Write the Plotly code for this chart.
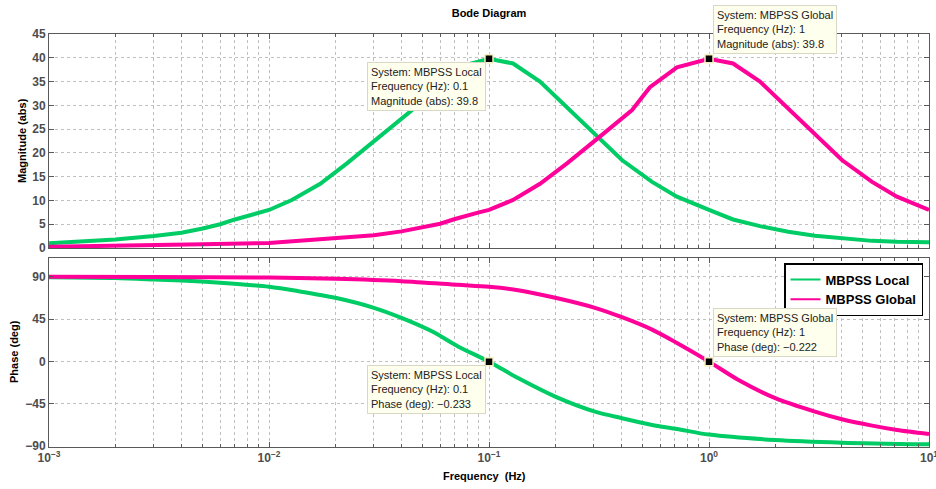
import numpy as np
import plotly.graph_objects as go
from plotly.subplots import make_subplots

# ---- Frequency response data (Hz, abs, deg) ----
freq_local_mag = [0.001, 0.002, 0.003, 0.004, 0.005, 0.006, 0.007, 0.008, 0.009, 0.01,
                  0.0127, 0.0171, 0.0226, 0.0313, 0.0447, 0.0539, 0.0715, 0.1,
                  0.1286, 0.1705, 0.303, 0.402, 0.551, 0.715, 1.0, 1.286, 1.705,
                  2.29, 3.03, 4.02, 5.51, 7.15, 10.0]
mag_local = [1.0, 1.8, 2.5, 3.2, 4.1, 5.0, 6.0, 6.8, 7.4, 8.0,
             10.1, 13.5, 17.8, 23.1, 29.0, 33.8, 38.0, 39.8,
             38.8, 35.0, 24.1, 18.5, 13.9, 10.8, 8.0, 6.0, 4.6,
             3.4, 2.6, 2.0, 1.5, 1.3, 1.2]

freq_global_mag = [0.001, 0.002, 0.003, 0.005, 0.01, 0.02, 0.03, 0.04, 0.05, 0.06,
                   0.07, 0.08, 0.09, 0.1, 0.1286, 0.1705, 0.2262, 0.313, 0.447,
                   0.539, 0.715, 1.0, 1.286, 1.705, 3.03, 4.02, 5.51, 7.15, 10.0]
mag_global = [0.25, 0.4, 0.55, 0.8, 1.05, 2.0, 2.7, 3.5, 4.3, 5.1,
              6.1, 6.9, 7.5, 8.0, 10.1, 13.5, 17.8, 23.1, 29.0,
              33.8, 38.0, 39.8, 38.8, 35.0, 24.1, 18.5, 13.9, 10.8, 8.0]

freq_local_ph = [0.001, 0.002, 0.003, 0.004, 0.006, 0.01, 0.0136, 0.02, 0.03, 0.04,
                 0.055, 0.0723, 0.1, 0.1355, 0.2, 0.303, 0.402, 0.551, 0.715,
                 1.0, 2.0, 4.02, 10.0]
phase_local = [89.4, 88.6, 87.2, 86.1, 83.7, 79.4, 74.7, 67.7, 57.0, 46.3,
               32.0, 16.0, -0.233, -17.7, -37.4, -53.4, -60.4, -67.6, -71.8,
               -77.8, -83.6, -86.4, -88.2]

freq_global_ph = [0.001, 0.003, 0.01, 0.02, 0.04, 0.0723, 0.1, 0.1355, 0.2, 0.303,
                  0.402, 0.551, 0.715, 1.0, 1.355, 2.0, 3.03, 4.02, 5.51, 7.15, 10.0]
phase_global = [90.0, 89.8, 89.2, 87.9, 85.4, 81.5, 79.4, 75.8, 67.7, 57.0,
                47.0, 33.8, 19.6, -0.222, -19.5, -39.1, -53.4, -61.5, -68.3, -72.9, -77.2]

# Data tips
tip_systems = ["MBPSS Local", "MBPSS Global"]
tip_freqs = [0.1, 1.0]
tip_mags = [39.8, 39.8]
tip_phases = [-0.233, -0.222]

x_ticks = [0.001, 0.01, 0.1, 1, 10]
mag_ticks = [0, 5, 10, 15, 20, 25, 30, 35, 40, 45]
phase_ticks = [-90, -45, 0, 45, 90]

GREEN = "#00CC66"
MAGENTA = "#FF0099"
FONT = "Liberation Sans, Arial, Helvetica, sans-serif"

W, H = 936, 489
ML, MR, MT, MB = 49, 7, 34, 42
plot_h = H - MT - MB
top_dom = [(H - MB - 248) / plot_h, 1.0]
bot_dom = [0.0, (H - MB - 258) / plot_h]

fig = make_subplots(rows=2, cols=1, shared_xaxes=True)

# magnitude
fig.add_trace(go.Scatter(x=freq_local_mag, y=mag_local, mode="lines",
                         line=dict(color=GREEN, width=4), showlegend=False,
                         name="MBPSS Local"), row=1, col=1)
fig.add_trace(go.Scatter(x=freq_global_mag, y=mag_global, mode="lines",
                         line=dict(color=MAGENTA, width=4), showlegend=False,
                         name="MBPSS Global"), row=1, col=1)
# phase
fig.add_trace(go.Scatter(x=freq_local_ph, y=phase_local, mode="lines",
                         line=dict(color=GREEN, width=4, shape="spline", smoothing=0.8),
                         showlegend=False, name="MBPSS Local"), row=2, col=1)
fig.add_trace(go.Scatter(x=freq_global_ph, y=phase_global, mode="lines",
                         line=dict(color=MAGENTA, width=4, shape="spline", smoothing=0.8),
                         showlegend=False, name="MBPSS Global"), row=2, col=1)

# legend entries (thin sample lines)
for name, col in zip(tip_systems, [GREEN, MAGENTA]):
    fig.add_trace(go.Scatter(x=[None], y=[None], mode="lines", name=name,
                             line=dict(color=col, width=2), showlegend=True),
                  row=2, col=1)

# data tip markers
marker_style = dict(symbol="square", size=8, color="black",
                    line=dict(color="#f5f0c0", width=1.5))
fig.add_trace(go.Scatter(x=tip_freqs, y=tip_mags, mode="markers", marker=marker_style,
                         showlegend=False, hoverinfo="skip"), row=1, col=1)
fig.add_trace(go.Scatter(x=tip_freqs, y=tip_phases, mode="markers", marker=marker_style,
                         showlegend=False, hoverinfo="skip"), row=2, col=1)


def fmt(v):
    s = f"{v:g}"
    return s.replace("-", "\u2212")


tip_box = dict(bgcolor="#ffffee", bordercolor="#d8d8c4", borderwidth=1, borderpad=3,
               align="left", showarrow=False,
               font=dict(family=FONT, size=11, color="#222222"))
for i, (sysname, f, m, p) in enumerate(zip(tip_systems, tip_freqs, tip_mags, tip_phases)):
    if i == 0:
        place = dict(xanchor="right", yanchor="top", xshift=-3, yshift=-3)
    else:
        place = dict(xanchor="left", yanchor="bottom", xshift=4, yshift=5)
    fig.add_annotation(x=np.log10(f), y=m, xref="x", yref="y",
                       text=f"System: {sysname}<br>Frequency (Hz): {fmt(f)}<br>Magnitude (abs): {m:.1f}",
                       **place, **tip_box)
    fig.add_annotation(x=np.log10(f), y=p, xref="x2", yref="y2",
                       text=f"System: {sysname}<br>Frequency (Hz): {fmt(f)}<br>Phase (deg): {fmt(p)}",
                       **place, **tip_box)

grid_col = "#c0c0c0"
axis_col = "#5a5a5a"
tick_font = dict(family=FONT, size=12, color="#4d4d4d", weight="bold")

# decade labels written as powers of ten
x_ticktext = [f"10<sup>{int(round(np.log10(v)))}</sup>".replace("-", "\u2212") for v in x_ticks]

xcommon = dict(type="log", range=[-3, 1], tickvals=x_ticks, ticktext=x_ticktext,
               ticklabeloverflow="allow",
               showline=True, linecolor=axis_col, linewidth=1, mirror="allticks",
               ticks="inside", ticklen=5, tickcolor=axis_col,
               showgrid=True, gridcolor=grid_col, griddash="dot", gridwidth=1,
               minor=dict(dtick="D1", ticks="inside", ticklen=3, tickcolor=axis_col,
                          showgrid=True, gridcolor=grid_col, griddash="dot", gridwidth=1),
               zeroline=False, tickfont=tick_font, automargin=False)
fig.update_xaxes(**xcommon)
fig.update_xaxes(showticklabels=False, row=1, col=1)

ycommon = dict(showline=True, linecolor=axis_col, linewidth=1, mirror="allticks",
               ticks="inside", ticklen=5, tickcolor=axis_col,
               showgrid=True, gridcolor=grid_col, griddash="dot", gridwidth=1,
               zeroline=False, tickfont=tick_font, automargin=False)
fig.update_yaxes(**ycommon)
fig.update_yaxes(range=[0, 45], tickvals=mag_ticks, domain=top_dom, row=1, col=1)
fig.update_yaxes(range=[-91, 110], tickvals=phase_ticks, domain=bot_dom, row=2, col=1)

label_font = dict(family=FONT, size=11, color="black", weight="bold")
fig.add_annotation(text="Magnitude (abs)", xref="paper", yref="paper", x=0,
                   y=sum(top_dom) / 2, xshift=-27, xanchor="center", yanchor="middle",
                   textangle=-90, showarrow=False, font=label_font)
fig.add_annotation(text="Phase (deg)", xref="paper", yref="paper", x=0,
                   y=(H - MB - 352) / plot_h, xshift=-35, xanchor="center", yanchor="middle",
                   textangle=-90, showarrow=False, font=label_font)
fig.add_annotation(text="Frequency\u00a0 (Hz)", xref="paper", yref="paper", x=0.5, y=0,
                   xshift=-5, yshift=-29, xanchor="center", yanchor="middle",
                   showarrow=False, font=label_font)

fig.update_layout(
    width=W, height=H,
    margin=dict(l=ML, r=MR, t=MT, b=MB),
    paper_bgcolor="white", plot_bgcolor="white",
    title=dict(text="Bode Diagram", x=0.5, xref="paper", y=1 - 13 / H, yref="container",
               xanchor="center", yanchor="middle",
               font=dict(family=FONT, size=11, color="black", weight="bold")),
    legend=dict(x=(923 - ML) / (W - ML - MR), y=(H - MB - 263) / plot_h,
                xanchor="right", yanchor="top", bgcolor="white",
                bordercolor="black", borderwidth=1.5, tracegroupgap=0,
                font=dict(family=FONT, size=13, color="black", weight="bold")),
    showlegend=True,
)

fig.write_html("out.html")
